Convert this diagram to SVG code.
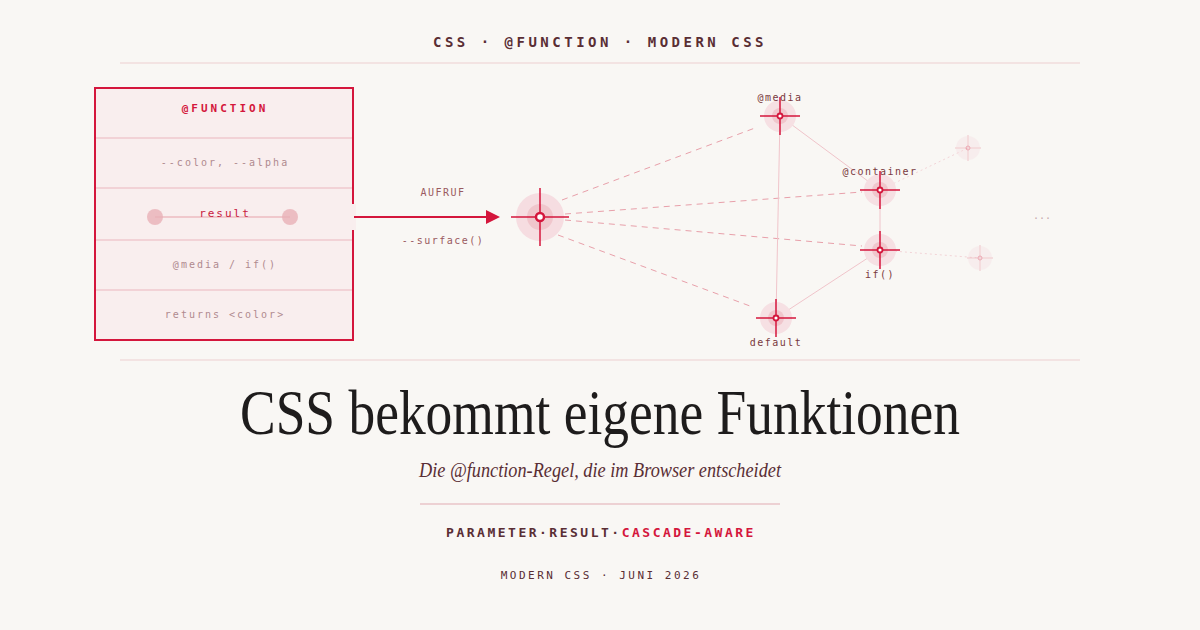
<svg xmlns="http://www.w3.org/2000/svg" width="1200" height="630" viewBox="0 0 1200 630">
<style>
.mono{font-family:"DejaVu Sans Mono","Liberation Mono",monospace}
.row{font-size:10px;fill:#b08a8e;letter-spacing:2px;text-anchor:middle}
.lbl{font-size:10px;fill:#7a3a40;letter-spacing:1.5px;text-anchor:middle}
.dash{stroke:#e8a0aa;stroke-width:1;stroke-dasharray:6 5;fill:none}
.thin{stroke:#f0c4ca;stroke-width:1;fill:none}
.sep{stroke:#f2d2d6;stroke-width:2}
.cross{stroke:#d4163c;stroke-opacity:.75;stroke-width:2}
</style>
<rect width="1200" height="630" fill="#f9f7f4"/>
<text x="600" y="47" class="mono" font-size="14" font-weight="bold" fill="#5a2e34" letter-spacing="3.5" text-anchor="middle">CSS · @FUNCTION · MODERN CSS</text>
<line x1="120" y1="63" x2="1080" y2="63" stroke="#f0dcdc" stroke-width="1.5"/>
<line x1="120" y1="360" x2="1080" y2="360" stroke="#f0dcdc" stroke-width="1.5"/>

<g id="function-box">
<rect x="95" y="88" width="258" height="252" fill="#f9eeee" stroke="#d4163c" stroke-width="2"/>
<line x1="96" y1="138" x2="352" y2="138" class="sep"/>
<line x1="96" y1="188" x2="352" y2="188" class="sep"/>
<line x1="96" y1="240" x2="352" y2="240" class="sep"/>
<line x1="96" y1="290" x2="352" y2="290" class="sep"/>
<rect x="350" y="204" width="6" height="26" fill="#f9eeee"/>
<text x="225" y="112" class="mono" font-size="11" font-weight="bold" fill="#d4163c" letter-spacing="3" text-anchor="middle">@FUNCTION</text>
<text x="225" y="166" class="mono row">--color, --alpha</text>
<line x1="155" y1="217" x2="290" y2="217" stroke="#f0c8cc" stroke-width="2"/>
<circle cx="155" cy="217" r="8" fill="#e8b0b6" opacity=".8"/>
<circle cx="290" cy="217" r="8" fill="#e8b0b6" opacity=".8"/>
<text x="225" y="217" class="mono" font-size="11" fill="#c8203e" letter-spacing="2" text-anchor="middle">result</text>
<text x="225" y="268" class="mono row">@media / if()</text>
<text x="225" y="318" class="mono row">returns &lt;color&gt;</text>
</g>

<g id="connectors">
<line x1="354" y1="217" x2="488" y2="217" stroke="#d4163c" stroke-width="2"/>
<polygon points="486,210 500,217 486,224" fill="#d4163c"/>
<text x="443" y="196" class="mono" font-size="10" fill="#9a5a60" letter-spacing="1.5" text-anchor="middle">AUFRUF</text>
<text x="443" y="244" class="mono" font-size="10" fill="#9a5a60" letter-spacing="1.5" text-anchor="middle">--surface()</text>
<line x1="562" y1="200" x2="755" y2="128" class="dash"/>
<line x1="565" y1="214" x2="862" y2="192" class="dash"/>
<line x1="565" y1="220" x2="862" y2="246" class="dash"/>
<line x1="558" y1="235" x2="750" y2="306" class="dash"/>
<line x1="780" y1="116" x2="776" y2="318" class="thin"/>
<line x1="780" y1="116" x2="880" y2="190" class="thin"/>
<line x1="880" y1="190" x2="880" y2="250" class="thin"/>
<line x1="880" y1="250" x2="776" y2="318" class="thin"/>
<line x1="880" y1="190" x2="968" y2="148" class="thin" stroke-dasharray="2 3" opacity=".7"/>
<line x1="880" y1="250" x2="980" y2="258" class="thin" stroke-dasharray="2 3" opacity=".7"/>
</g>

<g id="hub">
<circle cx="540" cy="217" r="24" fill="#f6dde1"/>
<circle cx="540" cy="217" r="13" fill="#f0c6cc"/>
<line x1="511" y1="217" x2="569" y2="217" class="cross"/>
<line x1="540" y1="188" x2="540" y2="246" class="cross"/>
<circle cx="540" cy="217" r="4" fill="#fff" stroke="#d4163c" stroke-width="2.5"/>
</g>
<g id="media">
<circle cx="780" cy="116" r="16" fill="#f6e0e3"/><circle cx="780" cy="116" r="8" fill="#f0c6cc"/>
<line x1="760" y1="116" x2="800" y2="116" class="cross"/><line x1="780" y1="97" x2="780" y2="135" class="cross"/>
<circle cx="780" cy="116" r="2.5" fill="#fff" stroke="#d4163c" stroke-width="1.8"/>
<text x="780" y="101" class="mono lbl">@media</text>
</g>
<g id="container">
<circle cx="880" cy="190" r="16" fill="#f6e0e3"/><circle cx="880" cy="190" r="8" fill="#f0c6cc"/>
<line x1="860" y1="190" x2="900" y2="190" class="cross"/><line x1="880" y1="171" x2="880" y2="209" class="cross"/>
<circle cx="880" cy="190" r="2.5" fill="#fff" stroke="#d4163c" stroke-width="1.8"/>
<text x="880" y="175" class="mono lbl">@container</text>
</g>
<g id="if">
<circle cx="880" cy="250" r="16" fill="#f6e0e3"/><circle cx="880" cy="250" r="8" fill="#f0c6cc"/>
<line x1="860" y1="250" x2="900" y2="250" class="cross"/><line x1="880" y1="231" x2="880" y2="269" class="cross"/>
<circle cx="880" cy="250" r="2.5" fill="#fff" stroke="#d4163c" stroke-width="1.8"/>
<text x="880" y="278" class="mono lbl">if()</text>
</g>
<g id="default">
<circle cx="776" cy="318" r="16" fill="#f6e0e3"/><circle cx="776" cy="318" r="8" fill="#f0c6cc"/>
<line x1="756" y1="318" x2="796" y2="318" class="cross"/><line x1="776" y1="299" x2="776" y2="337" class="cross"/>
<circle cx="776" cy="318" r="2.5" fill="#fff" stroke="#d4163c" stroke-width="1.8"/>
<text x="776" y="346" class="mono lbl">default</text>
</g>
<g id="faint1" opacity=".35">
<circle cx="968" cy="148" r="12" fill="#f6dde1"/>
<line x1="955" y1="148" x2="981" y2="148" stroke="#e89aa6" stroke-width="1.5"/><line x1="968" y1="135" x2="968" y2="161" stroke="#e89aa6" stroke-width="1.5"/>
<circle cx="968" cy="148" r="2" fill="none" stroke="#d4163c"/>
</g>
<g id="faint2" opacity=".35">
<circle cx="980" cy="258" r="12" fill="#f6dde1"/>
<line x1="967" y1="258" x2="993" y2="258" stroke="#e89aa6" stroke-width="1.5"/><line x1="980" y1="245" x2="980" y2="271" stroke="#e89aa6" stroke-width="1.5"/>
<circle cx="980" cy="258" r="2" fill="none" stroke="#d4163c"/>
</g>
<text x="1042" y="219" class="mono" font-size="10" fill="#c8a8ac" text-anchor="middle">...</text>

<text x="600" y="434" font-family="'Liberation Serif',serif" font-size="64" fill="#1e1c1c" text-anchor="middle" textLength="720" lengthAdjust="spacingAndGlyphs">CSS bekommt eigene Funktionen</text>
<text x="600" y="477" font-family="'Liberation Serif',serif" font-style="italic" font-size="21" fill="#5a2e34" text-anchor="middle" textLength="362" lengthAdjust="spacingAndGlyphs">Die @function-Regel, die im Browser entscheidet</text>
<line x1="420" y1="504" x2="780" y2="504" stroke="#e8c4c8" stroke-width="1.5"/>
<text x="601" y="537" class="mono" font-size="13" font-weight="bold" letter-spacing="2.5" text-anchor="middle"><tspan fill="#5a2e34">PARAMETER·RESULT·</tspan><tspan fill="#d4163c">CASCADE-AWARE</tspan></text>
<text x="601" y="579" class="mono" font-size="11" fill="#5a2e34" letter-spacing="2.5" text-anchor="middle">MODERN CSS · JUNI 2026</text>
</svg>
